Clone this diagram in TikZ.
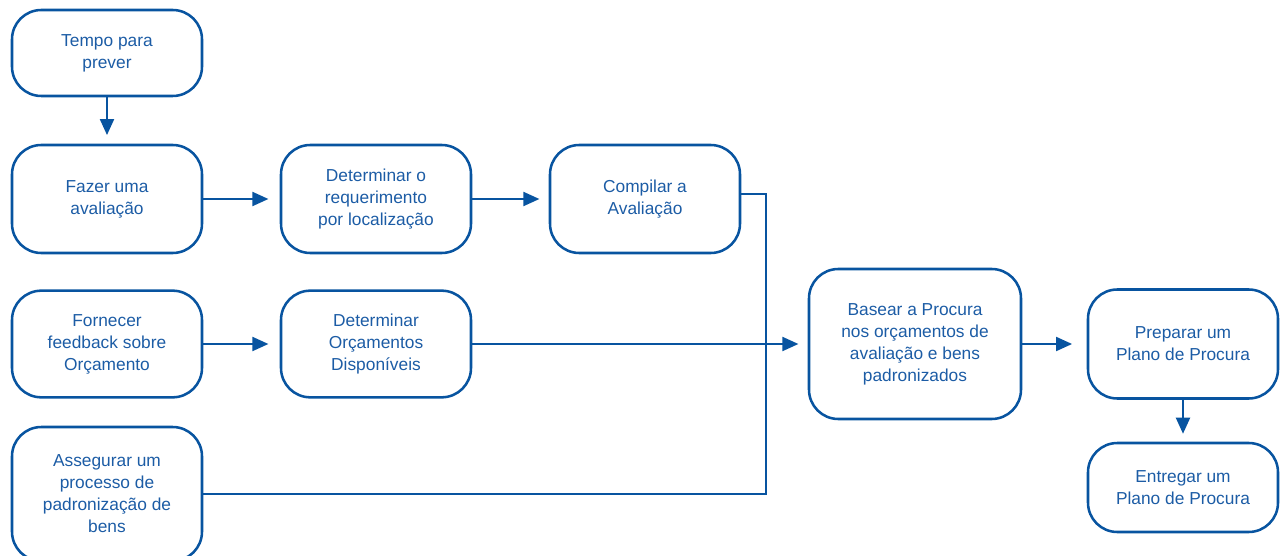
\documentclass[tikz,border=0pt]{standalone}
\usepackage{fontspec}
\setmainfont{Liberation Sans}
\usetikzlibrary{arrows.meta}
\definecolor{flowblue}{RGB}{8,84,160}
\definecolor{textblue}{RGB}{28,92,165}
\begin{document}
\begin{tikzpicture}[x=0.75pt,y=-0.75pt,
  procbox/.style={draw=flowblue, line width=1.9pt, rounded corners=22pt,
    align=center, text=textblue, inner sep=0pt,
    font=\fontsize{13}{16.5}\selectfont},
  flow/.style={draw=flowblue, line width=1.5pt,
    -{Triangle[length=12pt,width=10.5pt]}},
  link/.style={draw=flowblue, line width=1.5pt}]
\useasboundingbox (0,0) rectangle (1282,556);
\clip (0,0) rectangle (1282,556);

% left column
\node[procbox, minimum width=142.5pt, minimum height=64.5pt] (tempo) at (107,53) {Tempo para\\prever};
\node[procbox, minimum width=142.5pt, minimum height=81pt] (fazer) at (107,199) {Fazer uma\\avaliação};
\node[procbox, minimum width=142.5pt, minimum height=80pt] (fornecer) at (107,344) {Fornecer\\feedback sobre\\Orçamento};
\node[procbox, minimum width=142.5pt, minimum height=100.5pt] (assegurar) at (107,494) {Assegurar um\\processo de\\padronização de\\bens};

% second and third columns
\node[procbox, minimum width=142.5pt, minimum height=81pt] (requer) at (376,199) {Determinar o\\requerimento\\por localização};
\node[procbox, minimum width=142.5pt, minimum height=80pt] (orcam) at (376,344) {Determinar\\Orçamentos\\Disponíveis};
\node[procbox, minimum width=142.5pt, minimum height=81pt] (compilar) at (645,199) {Compilar a\\Avaliação};

% right side
\node[procbox, minimum width=159pt, minimum height=112.5pt] (basear) at (915,344) {Basear a Procura\\nos orçamentos de\\avaliação e bens\\padronizados};
\node[procbox, minimum width=142.5pt, minimum height=81.75pt] (preparar) at (1183,344) {Preparar um\\Plano de Procura};
\node[procbox, minimum width=142.5pt, minimum height=66.75pt] (entregar) at (1183,487.5) {Entregar um\\Plano de Procura};

% connectors
\draw[flow, shorten >=6.5pt] (tempo) -- (fazer);
\draw[flow, shorten >=8.5pt] (fazer) -- (requer);
\draw[flow, shorten >=7pt] (requer) -- (compilar);
\draw[flow, shorten >=8.5pt] (fornecer) -- (orcam);
\draw[flow, shorten >=7pt] (orcam) -- (basear);
\draw[flow, shorten >=11pt] (basear) -- (preparar);
\draw[flow, shorten >=6pt] (preparar) -- (entregar);

% merge line from the compiled assessment and the standardisation process
\coordinate (merge) at (766,300);
\draw[link] ([yshift=3.75pt]compilar.east) -| (merge) |- (assegurar.east);
\end{tikzpicture}
\end{document}
